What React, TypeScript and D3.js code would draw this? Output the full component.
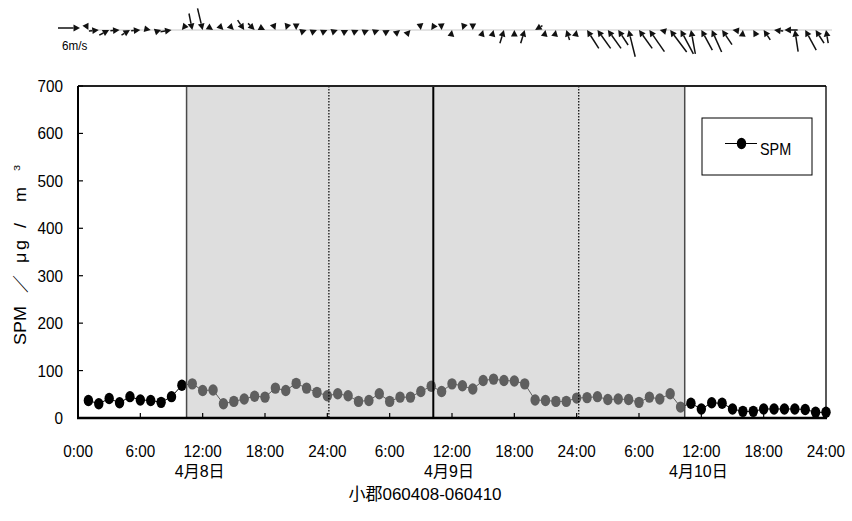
import React from "react";
import * as d3 from "d3";

// ---------------- data ----------------
const hours: number[] = d3.range(1, 73);
const spm: number[] = [
  37, 30, 41, 32, 45, 38, 37, 33, 45, 69,
  72, 58, 59, 30, 35, 40, 46, 44, 63, 58, 73, 63, 54, 47,
  51, 47, 35, 37, 51, 35, 44, 44, 56, 67, 56, 72, 68, 61, 79, 82, 79, 78, 72, 38, 37, 35, 35, 42,
  43, 45, 39, 40, 39, 33, 44, 40, 51, 23,
  31, 19, 32, 31, 19, 14, 14, 19, 19, 19, 19, 18, 12, 12,
];
// wind components (m/s): u east, v north
const windU: number[] = [
  0.5, 2.7, 2.7, 2.5, 2.3, 2.5, 1.5, 1.5, 3.0, -0.8,
  0.9, 1.4, 1.5, 1.2, 1.2, 1.8, 1.8, 1.5, 0.5, -0.5, 0.0, 1.4,
  1.4, 1.3, 1.4, 1.3, 1.3, 1.4, 1.3, 1.2, 1.0, 0.8, 0.2, -0.8,
  0.1, 0.2, -0.5, 0.0, 0.3, 0.2, 1.1, 0.0, 1.1, -2.0, 0.2, 0.2,
  -0.9, 0.2, -3.2, -3.6, -3.6, -2.7, -1.8, -3.6, -4.1, -1.2, -4.5, -3.5,
  -1.2, -3.0, -2.7, -2.7, -1.5, 0.1, -0.9, -1.8, -2.5, -3.6, -0.9, -3.0, -2.3, -0.6,
];
const windV: number[] = [
  -1.0, 0.3, 1.4, 0.2, 1.4, 0.2, -0.3, 0.5, 0.5, -1.0,
  -4.5, -5.9, -1.0, -1.2, -1.2, -2.7, -1.8, -0.8, -1.3, -1.5, -1.7, 0.5,
  0.6, 0.6, 0.5, 0.7, 0.6, 0.6, 0.5, 0.7, 0.8, 0.9, -1.5, -1.2,
  -1.6, 1.2, -1.5, -1.5, 1.0, 0.8, 3.6, 1.2, 3.6, -1.2, 1.0, 1.0,
  2.7, 1.0, 5.0, 5.0, 5.0, 4.1, 7.3, 5.0, 5.9, 0.3, 6.0, 6.5,
  6.5, 5.5, 6.0, 4.0, 0.2, 1.0, 1.6, 2.7, 0.3, 0.0, 5.9, 5.5, 3.6, 3.6,
];
const yTicks: number[] = [0, 100, 200, 300, 400, 500, 600, 700];
const xTickHours: number[] = [0, 6, 12, 18, 24, 30, 36, 42, 48, 54, 60, 66, 72];
const xTickLabels: string[] = [
  "0:00", "6:00", "12:00", "18:00", "24:00", "6:00", "12:00",
  "18:00", "24:00", "6:00", "12:00", "18:00", "24:00",
];
const dayHours: number[] = [12, 36, 60];
const dayLabels: string[] = ["4月8日", "4月9日", "4月10日"];
const shadeRange: number[] = [10.45, 58.4];
const solidLineHour = 34.2;
const dottedHours: number[] = [24.15, 48.2];
const scaleSpeed = 6;
const seriesName = "SPM";
const yTitleParts: string[] = ["SPM", "／", "μ", "g", "/", "m", "3"];
const chartTitle = "小郡060408-060410";

// ---------------- layout ----------------
const W = 852, H = 521;
const L = 78, R = 826, T = 86, B = 418;
const FONT = "'Liberation Sans', Arial, 'Noto Sans CJK JP', sans-serif";
const CJK = "'Liberation Sans', 'Noto Sans CJK JP', sans-serif";
const windBase = 30;
const pxPerMs = 22 / 6;
const yTitleOffsets = [0, 52, 82, 95, 117, 143, 174];

const x = d3.scaleLinear().domain([0, 72]).range([L, R]);
const y = d3.scaleLinear().domain([0, 700]).range([B, T]);

function NText(props: { x: number; y: number; anchor?: string; size?: number; sx?: number; family?: string; children: any }) {
  const { x: tx, y: ty, anchor = "middle", size = 17, sx = 0.9, family = FONT } = props;
  return (
    <text
      transform={`translate(${tx},${ty}) scale(${sx},1)`}
      textAnchor={anchor}
      fontFamily={family}
      fontSize={size}
      fill="#000"
    >
      {props.children}
    </text>
  );
}

function Arrow({ hx, hy, dx, dy }: { hx: number; hy: number; dx: number; dy: number }) {
  // head at (hx,hy), vector (dx,dy) in screen px
  const len = Math.hypot(dx, dy);
  if (len < 0.01) return null;
  const ux = dx / len, uy = dy / len;
  const hl = 6.5, hw = 3.4;
  const tx = hx - dx, ty = hy - dy;
  const bx = hx - ux * hl, by = hy - uy * hl;
  const p1 = [bx - uy * hw, by + ux * hw];
  const p2 = [bx + uy * hw, by - ux * hw];
  return (
    <g>
      {len > hl ? <line x1={tx} y1={ty} x2={bx} y2={by} stroke="#111" strokeWidth={1.5} /> : null}
      <path d={`M${hx},${hy}L${p1[0]},${p1[1]}L${p2[0]},${p2[1]}Z`} fill="#111" />
    </g>
  );
}

export default function App() {
  const line = d3
    .line<number>()
    .x((_, i) => x(hours[i]))
    .y((d) => y(d));

  return (
    <svg width={W} height={H} style={{ position: "absolute", left: 0, top: 0, background: "#fff" }}>
      <rect x={0} y={0} width={W} height={H} fill="#fff" />

      {/* wind vectors */}
      <line x1={90} x2={832} y1={windBase} y2={windBase} stroke="#c8c8c8" strokeWidth={1} />
      {hours.map((h, i) => (
        <Arrow key={h} hx={x(h)} hy={windBase} dx={windU[i] * pxPerMs} dy={-windV[i] * pxPerMs} />
      ))}
      <Arrow hx={80} hy={28} dx={scaleSpeed * pxPerMs} dy={0} />
      <NText x={62} y={50} anchor="start" size={13}>{`${scaleSpeed}m/s`}</NText>

      {/* series */}
      <path d={line(spm) || ""} fill="none" stroke="#000" strokeWidth={1} />
      {spm.map((v, i) => (
        <ellipse key={i} cx={x(hours[i])} cy={y(v)} rx={4.7} ry={5.7} fill="#000" />
      ))}

      {/* shaded period overlay */}
      <rect
        x={x(shadeRange[0])}
        y={T}
        width={x(shadeRange[1]) - x(shadeRange[0])}
        height={B - T}
        fill="rgb(190,190,190)"
        fillOpacity={0.5}
      />
      {shadeRange.map((h, i) => (
        <line key={i} x1={x(h)} x2={x(h)} y1={T} y2={B} stroke="#4a4a4a" strokeWidth={1.5} />
      ))}
      <line x1={x(solidLineHour)} x2={x(solidLineHour)} y1={T} y2={B} stroke="#000" strokeWidth={2} />
      {dottedHours.map((h, i) => (
        <line key={i} x1={x(h)} x2={x(h)} y1={T} y2={B} stroke="#000" strokeWidth={1.2} strokeDasharray="1.5,1.5" />
      ))}

      {/* frame */}
      <line x1={L} x2={R} y1={T} y2={T} stroke="#222" strokeWidth={2} />
      <line x1={R} x2={R} y1={T} y2={B} stroke="#000" strokeWidth={1.3} />
      <line x1={L} x2={L} y1={T} y2={B + 1} stroke="#000" strokeWidth={2} />
      <line x1={L - 1} x2={R + 1} y1={B} y2={B} stroke="#000" strokeWidth={2.5} />

      {/* y axis */}
      {yTicks.map((t) => (
        <g key={t}>
          <line x1={L} x2={L + 5} y1={y(t)} y2={y(t)} stroke="#000" strokeWidth={1.2} />
          <NText x={63} y={y(t) + 6} anchor="end">{t}</NText>
        </g>
      ))}
      <g transform={`translate(26,345) rotate(-90) scale(1,0.9)`}>
        <text fontFamily={CJK} fontSize={18} fill="#000">
          {yTitleParts.map((p, i) => (
            <tspan
              key={i}
              x={yTitleOffsets[i]}
              dy={i === yTitleParts.length - 1 ? -7 : i === yTitleParts.length - 2 ? 0 : 0}
              fontSize={i === yTitleParts.length - 1 ? 11 : 18}
            >
              {p}
            </tspan>
          ))}
        </text>
      </g>

      {/* x axis */}
      {xTickHours.map((h, i) => (
        <g key={i}>
          <line x1={x(h)} x2={x(h)} y1={B} y2={B - 5} stroke="#000" strokeWidth={1.2} />
          <NText x={x(h)} y={457}>{xTickLabels[i]}</NText>
        </g>
      ))}
      {dayHours.map((h, i) => (
        <NText key={i} x={x(h) - 3} y={477} size={16} sx={1} family={CJK}>{dayLabels[i]}</NText>
      ))}
      <NText x={425} y={500} size={17} sx={1} family={CJK}>{chartTitle}</NText>

      {/* legend */}
      <rect x={702} y={118} width={110} height={57} fill="#fff" stroke="#000" strokeWidth={1} />
      <line x1={725} x2={757} y1={143.5} y2={143.5} stroke="#000" strokeWidth={1} />
      <ellipse cx={741.5} cy={143.5} rx={4.7} ry={5.7} fill="#000" />
      <NText x={760} y={155} anchor="start" size={16}>{seriesName}</NText>
    </svg>
  );
}
